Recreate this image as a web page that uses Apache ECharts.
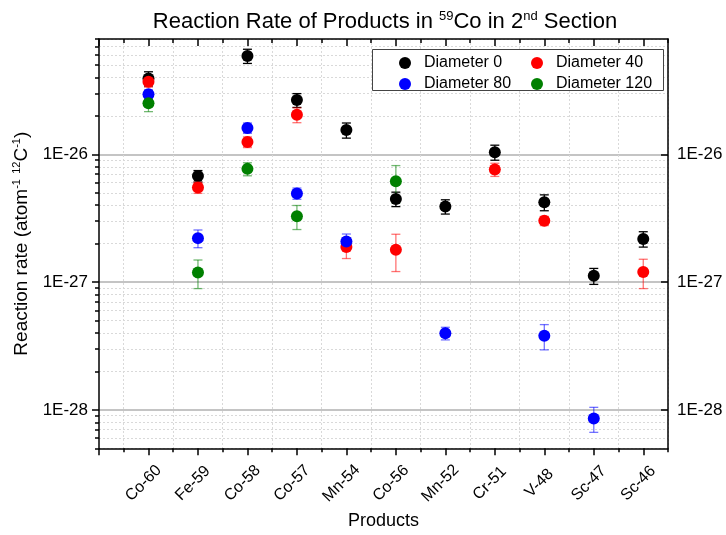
<!DOCTYPE html>
<html><head><meta charset="utf-8">
<script src="https://cdn.jsdelivr.net/npm/echarts@6/dist/echarts.min.js"></script>
<style>html,body{margin:0;padding:0;background:#fff}#c{width:726px;height:535px}</style>
</head><body><div id="c"></div>
<script>
const categories = ['Co-60','Fe-59','Co-58','Co-57','Mn-54','Co-56','Mn-52','Cr-51','V-48','Sc-47','Sc-46'];
const seriesNames = ['Diameter 0','Diameter 40','Diameter 80','Diameter 120'];
const d0     = [3.93e-26, 6.77e-27, 5.9e-26, 2.66e-26, 1.55e-26, 4.48e-27, 3.91e-27, 1.04e-26, 4.22e-27, 1.12e-27, 2.18e-27];
const d0Err  = [0.5e-26, 0.7e-27, 0.75e-26, 0.33e-26, 0.21e-26, 0.58e-27, 0.5e-27, 0.14e-26, 0.6e-27, 0.16e-27, 0.3e-27];
const d40    = [3.71e-26, 5.5e-27, 1.25e-26, 2.04e-26, 1.88e-27, 1.79e-27, null, 7.62e-27, 3.02e-27, null, 1.2e-27];
const d40Err = [0.35e-26, 0.55e-27, 0.12e-26, 0.27e-26, 0.35e-27, 0.58e-27, null, 0.9e-27, 0.25e-27, null, 0.31e-27];
const d80    = [2.96e-26, 2.21e-27, 1.61e-26, 4.95e-27, 2.08e-27, null, 3.98e-28, null, 3.8e-28, 8.57e-29, null];
const d80Err = [0.24e-26, 0.35e-27, 0.15e-26, 0.5e-27, 0.3e-27, null, 0.45e-28, null, 0.85e-28, 0.19e-28, null];
const d120   = [2.51e-26, 1.19e-27, 7.7e-27, 3.28e-27, null, 6.17e-27, null, null, null, null, null];
const d120Err= [0.35e-26, 0.3e-27, 0.9e-27, 0.7e-27, null, 2.0e-27, null, null, null, null, null];

const yMajorTicks = [1e-28, 1e-27, 1e-26];
const yTickLabels = ['1E-28', '1E-27', '1E-26'];
const yMinorTicks = [5e-29, 6e-29, 7e-29, 8e-29, 9e-29,
  2e-28, 3e-28, 4e-28, 5e-28, 6e-28, 7e-28, 8e-28, 9e-28,
  2e-27, 3e-27, 4e-27, 5e-27, 6e-27, 7e-27, 8e-27, 9e-27,
  2e-26, 3e-26, 4e-26, 5e-26, 6e-26, 7e-26, 8e-26];
const xMajorTicks = [0, 1, 2, 3, 4, 5, 6, 7, 8, 9, 10, 11];
const xLabelTicks = [1, 2, 3, 4, 5, 6, 7, 8, 9, 10, 11];
const xMinorTicks = [0.5, 1.5, 2.5, 3.5, 4.5, 5.5, 6.5, 7.5, 8.5, 9.5, 10.5, 11.5];

const colors = ['#000000', '#ff0000', '#0000ff', '#008000'];
const errColors = ['#000000', 'rgba(255,0,0,0.55)', 'rgba(0,0,255,0.55)', 'rgba(0,128,0,0.55)'];
const vals = [d0, d40, d80, d120];
const errs = [d0Err, d40Err, d80Err, d120Err];

const FONT = 'Liberation Sans, Arial, sans-serif';
const YMIN = 5e-29, YMAX = 8e-26, XMIN = 0, XMAX = 11.5;
const LYMIN = Math.log10(YMIN), LYMAX = Math.log10(YMAX);
const lg = v => Math.log10(v);

function yLabel(v) {
  const i = yMajorTicks.findIndex(t => Math.abs(lg(t) - v) < 1e-6);
  return i >= 0 ? yTickLabels[i] : '';
}

// overlay value axes in log10 space used only for ticks, labels and grid lines
function tickY(extra) {
  return Object.assign({
    type: 'value', min: LYMIN, max: LYMAX,
    axisLine: { show: false }, axisLabel: { show: false },
    axisTick: { show: false }, splitLine: { show: false }
  }, extra);
}
function baseX(extra) {
  return Object.assign({
    type: 'value', min: XMIN, max: XMAX,
    axisLine: { show: false }, axisLabel: { show: false },
    axisTick: { show: false }, splitLine: { show: false }
  }, extra);
}

const axisLineStyle = { show: true, onZero: false, lineStyle: { color: '#000', width: 1.5 } };

const series = [];
vals.forEach((arr, k) => {
  const data = [];
  arr.forEach((v, i) => { if (v != null) data.push([i + 1, v - errs[k][i], v + errs[k][i]]); });
  series.push({
    type: 'custom', name: 'err' + k, xAxisIndex: 0, yAxisIndex: 0, silent: true, z: 2,
    encode: { x: 0, y: [1, 2] },
    data: data,
    renderItem: function (params, api) {
      const x = api.value(0);
      const top = api.coord([x, api.value(2)]);
      const bot = api.coord([x, api.value(1)]);
      const w = 4.5;
      const st = { stroke: errColors[k], lineWidth: 1.3 };
      return { type: 'group', children: [
        { type: 'line', shape: { x1: top[0], y1: top[1], x2: bot[0], y2: bot[1] }, style: st },
        { type: 'line', shape: { x1: top[0] - w, y1: top[1], x2: top[0] + w, y2: top[1] }, style: st },
        { type: 'line', shape: { x1: bot[0] - w, y1: bot[1], x2: bot[0] + w, y2: bot[1] }, style: st }
      ]};
    }
  });
});
vals.forEach((arr, k) => {
  const data = [];
  arr.forEach((v, i) => { if (v != null) data.push([i + 1, v]); });
  series.push({
    type: 'scatter', name: seriesNames[k], xAxisIndex: 0, yAxisIndex: 0, z: 3 + k,
    symbol: 'circle', symbolSize: 12, itemStyle: { color: colors[k], opacity: 1 },
    emphasis: { disabled: true }, data: data
  });
});

const legendText = { fontSize: 16, color: '#000', fontFamily: FONT, lineHeight: 14, padding: [0, 0, 0, 8] };

const option = {
  animation: false,
  backgroundColor: '#fff',
  textStyle: { fontFamily: FONT },
  grid: { left: 99, right: 58, top: 39, bottom: 77, containLabel: false },
  xAxis: [
    baseX({ position: 'bottom', axisLine: axisLineStyle,
      axisTick: { show: true, customValues: xMajorTicks, length: 7, lineStyle: { color: '#000', width: 1.5 } },
      axisLabel: { show: true, customValues: xLabelTicks, rotate: 45, align: 'center', verticalAlign: 'middle', margin: 30,
        padding: [0, 14, 8, 0],
        fontSize: 16, color: '#000', fontFamily: FONT,
        formatter: v => categories[Math.round(v) - 1] || '' },
      name: 'Products', nameLocation: 'middle', nameGap: 62,
      nameTextStyle: { fontSize: 18, color: '#000', fontFamily: FONT } }),
    baseX({ position: 'bottom',
      axisTick: { show: true, customValues: xMinorTicks, length: 4, lineStyle: { color: '#000', width: 1.5 } },
      splitLine: { show: true, lineStyle: { color: '#d9d9d9', width: 1, type: [2, 2] } } }),
    baseX({ position: 'top', axisLine: axisLineStyle,
      axisTick: { show: true, inside: true, customValues: xMajorTicks, length: 7, lineStyle: { color: '#000', width: 1.5 } } }),
    baseX({ position: 'top',
      axisTick: { show: true, inside: true, customValues: xMinorTicks, length: 4, lineStyle: { color: '#000', width: 1.5 } } })
  ],
  yAxis: [
    { type: 'log', logBase: 10, min: YMIN, max: YMAX, position: 'left',
      axisLine: { show: false }, axisLabel: { show: false }, axisTick: { show: false }, splitLine: { show: false } },
    tickY({ position: 'left', axisLine: axisLineStyle,
      axisTick: { show: true, customValues: yMajorTicks.map(lg), length: 7, lineStyle: { color: '#000', width: 1.5 } },
      axisLabel: { show: true, customValues: yMajorTicks.map(lg), formatter: yLabel, margin: 11, fontSize: 17, color: '#000', fontFamily: FONT },
      splitLine: { show: true, lineStyle: { color: '#c4c4c4', width: 2 } },
      name: '{n|Reaction rate (atom}{s|-1}{n| }{s|12}{n|C}{s|-1}{n|)}',
      nameLocation: 'middle', nameGap: 65,
      nameTextStyle: { color: '#000', fontFamily: FONT, rich: {
        n: { fontSize: 19, lineHeight: 22, fontFamily: FONT, color: '#000' },
        s: { fontSize: 11, lineHeight: 11, verticalAlign: 'top', fontFamily: FONT, color: '#000' } } } }),
    tickY({ position: 'left',
      axisTick: { show: true, customValues: yMinorTicks.map(lg), length: 4, lineStyle: { color: '#000', width: 1.5 } },
      splitLine: { show: true, lineStyle: { color: '#d9d9d9', width: 1, type: [2, 2] } } }),
    tickY({ position: 'right', axisLine: axisLineStyle,
      axisTick: { show: true, inside: true, customValues: yMajorTicks.map(lg), length: 7, lineStyle: { color: '#000', width: 1.5 } },
      axisLabel: { show: true, customValues: yMajorTicks.map(lg), formatter: yLabel, margin: 9, fontSize: 17, color: '#000', fontFamily: FONT } }),
    tickY({ position: 'right',
      axisTick: { show: true, inside: true, customValues: yMinorTicks.map(lg), length: 4, lineStyle: { color: '#000', width: 1.5 } } })
  ],
  legend: [
    { data: ['Diameter 0', 'Diameter 80'], orient: 'vertical', left: 399, top: 55, padding: 0, itemWidth: 12, itemHeight: 12, itemGap: 5,
      z: 20, selectedMode: false, icon: 'circle', textStyle: legendText },
    { data: ['Diameter 40', 'Diameter 120'], orient: 'vertical', left: 531, top: 55, padding: 0, itemWidth: 12, itemHeight: 12, itemGap: 5,
      z: 20, selectedMode: false, icon: 'circle', textStyle: legendText }
  ],
  graphic: [
    { type: 'rect', z: 3, silent: true, shape: { x: 372.5, y: 49.5, width: 291, height: 41 },
      style: { fill: '#fff', stroke: '#444', lineWidth: 1 } },
    { type: 'text', z: 60, x: 385, y: 22, silent: true,
      style: { text: '{n|Reaction Rate of Products in }{s|59}{n|Co in 2}{s|nd}{n| Section}',
        align: 'center', verticalAlign: 'middle', fontFamily: FONT,
        rich: { n: { fontSize: 22, lineHeight: 25, fontFamily: FONT, fill: '#000' },
                s: { fontSize: 13, lineHeight: 13, verticalAlign: 'top', fontFamily: FONT, fill: '#000' } } } }
  ],
  series: series
};
const chart = echarts.init(document.getElementById('c'), null, { renderer: 'canvas' });
chart.setOption(option);
</script></body></html>
